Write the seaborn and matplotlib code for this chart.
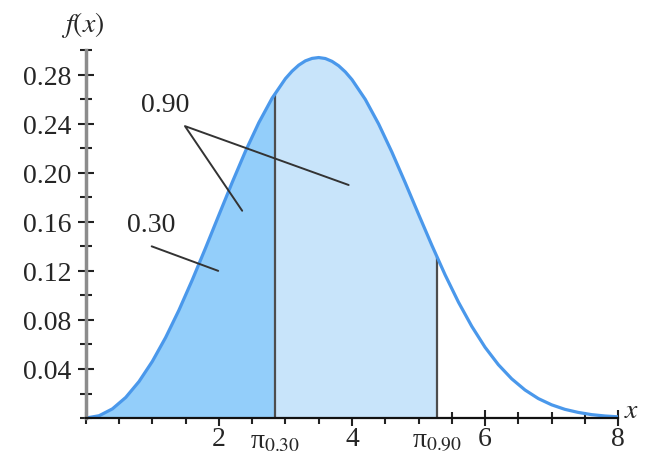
import numpy as np
import pandas as pd
import matplotlib
matplotlib.use("Agg")
import matplotlib.pyplot as plt
import matplotlib.transforms as mtransforms
from matplotlib.ticker import MultipleLocator, FixedLocator
import seaborn as sns

# ==================================================
# Data
# ==================================================

x_vals = [0.0, 0.2, 0.4, 0.6, 0.8, 1.0, 1.2, 1.4, 1.6, 1.8,
          2.0, 2.2, 2.4, 2.6, 2.8, 3.0, 3.1, 3.2, 3.3, 3.4, 3.5, 3.6, 3.7, 3.8, 3.9,
          4.0, 4.2, 4.4, 4.6, 4.8, 5.0, 5.2, 5.4, 5.6, 5.8,
          6.0, 6.2, 6.4, 6.6, 6.8, 7.0, 7.2, 7.4, 7.6, 7.8, 8.0]
fx_vals = [0.0, 0.0019, 0.0075, 0.0168, 0.0298, 0.0462, 0.0657, 0.0880, 0.1126, 0.1387,
           0.1655, 0.1921, 0.2176, 0.2408, 0.2608, 0.2767, 0.2828, 0.2877, 0.2912, 0.2932,
           0.2939, 0.2931, 0.2908, 0.2872, 0.2822,
           0.2759, 0.2598, 0.2398, 0.2168, 0.1919, 0.1662, 0.1409, 0.1167, 0.0945, 0.0748,
           0.0577, 0.0435, 0.0320, 0.0229, 0.0159, 0.0108, 0.0071, 0.0046, 0.0028, 0.0017, 0.0010]

pct_x = [2.84, 5.28]          # pi_0.30, pi_0.90
pct_fx = [0.264, 0.131]
pct_labels = ["π$_{0.30}$", "π$_{0.90}$"]

y_ticks = [0.04, 0.08, 0.12, 0.16, 0.20, 0.24, 0.28]
x_ticks = [2, 4, 6, 8]

df = pd.DataFrame({"x": x_vals, "fx": fx_vals})

# ==================================================
# Style
# ==================================================

sns.set_style("ticks")
plt.rcParams["font.family"] = ["Liberation Serif", "DejaVu Serif"]
plt.rcParams["mathtext.fontset"] = "stix"

CURVE = "#4A98EB"
DARK_FILL = "#93CEFA"
LIGHT_FILL = "#C8E4FA"
FS = 20

fig = plt.figure(figsize=(6.5, 4.6), dpi=100)
ax = fig.add_axes([0.132, 0.089, 0.819, 0.80])

# ==================================================
# Shaded areas
# ==================================================

x = np.array(x_vals)
y = np.array(fx_vals)

m1 = x < pct_x[0]
x1 = np.concatenate([x[m1], [pct_x[0]]])
y1 = np.concatenate([y[m1], [pct_fx[0]]])
ax.fill_between(x1, 0, y1, color=DARK_FILL, linewidth=0)

m2 = (x > pct_x[0]) & (x < pct_x[1])
x2 = np.concatenate([[pct_x[0]], x[m2], [pct_x[1]]])
y2 = np.concatenate([[pct_fx[0]], y[m2], [pct_fx[1]]])
ax.fill_between(x2, 0, y2, color=LIGHT_FILL, linewidth=0)

for px, py in zip(pct_x, pct_fx):
    ax.plot([px, px], [0, py], color="#4d4d4d", lw=1.6)

# ==================================================
# Curve
# ==================================================

sns.lineplot(data=df, x="x", y="fx", ax=ax, color=CURVE, lw=2.3,
             solid_joinstyle="round", solid_capstyle="round")

# ==================================================
# Annotations
# ==================================================

ax.text(1.19, 0.256, "0.90", fontsize=FS, ha="center", va="center")
ax.plot([2.35, 1.49, 3.95], [0.169, 0.238, 0.190], color="#333333", lw=1.4)
ax.text(0.99, 0.158, "0.30", fontsize=FS, ha="center", va="center")
ax.plot([0.99, 1.99], [0.140, 0.120], color="#333333", lw=1.4)

# ==================================================
# Axes
# ==================================================

ax.set_xlim(0, 8)
ax.set_ylim(0, 0.30)
ax.set_xlabel("")
ax.set_ylabel("")
sns.despine(ax=ax)
ax.spines["left"].set_color("#8c8c8c")
ax.spines["left"].set_linewidth(2.5)
ax.spines["bottom"].set_color("#111111")
ax.spines["bottom"].set_linewidth(1.6)

ax.yaxis.set_major_locator(FixedLocator(y_ticks))
ax.yaxis.set_minor_locator(MultipleLocator(0.02))
ax.set_yticklabels([f"{v:.2f}" for v in y_ticks])
ax.xaxis.set_major_locator(FixedLocator(x_ticks))
ax.xaxis.set_minor_locator(MultipleLocator(0.5))
ax.set_xticklabels([str(v) for v in x_ticks])

ax.tick_params(which="major", direction="inout", length=11, width=1.5,
               color="#222222", labelsize=FS, pad=5)
ax.tick_params(which="minor", direction="inout", length=8, width=1.5,
               color="#222222")
ax.tick_params(axis="x", which="major", pad=0)

trans = mtransforms.blended_transform_factory(ax.transData, ax.transAxes)
for px, lab in zip(pct_x, pct_labels):
    ax.text(px, -0.028, lab, transform=trans, fontsize=FS,
            ha="center", va="top")

fig.text(83 / 650, 1 - 25 / 460, r"$f(x)$", fontsize=FS, ha="center", va="center")
fig.text(632 / 650, 1 - 412 / 460, r"$x$", fontsize=FS, ha="center", va="center")

fig.savefig("out.png", dpi=100)
